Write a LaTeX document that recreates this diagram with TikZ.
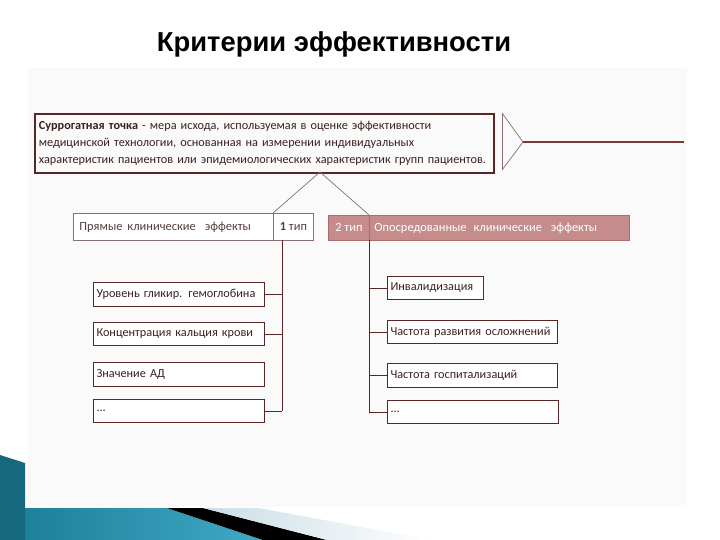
\documentclass[tikz,border=0pt]{standalone}
\usepackage{fontspec}
\setmainfont{Carlito}
\newfontfamily\titlefont{Liberation Sans}
\definecolor{boxdark}{HTML}{5B2525}
\definecolor{txtdark}{HTML}{3D1F1F}
\definecolor{rowtxt}{HTML}{5A3C3C}
\definecolor{rose}{HTML}{C68C8C}
\definecolor{roseborder}{HTML}{A86E6E}
\definecolor{linegray}{HTML}{8B6F6F}
\definecolor{linebrown}{HTML}{7A3A30}
\definecolor{panelc}{HTML}{FAFAFA}
\definecolor{tealdark}{HTML}{16687E}
\definecolor{tealA}{HTML}{1B7C95}
\definecolor{tealB}{HTML}{3FA9C6}
\definecolor{paleblue}{HTML}{C9DDE6}
\tikzset{
  txt/.style={font=\fontsize{12.5}{17}\selectfont},
  rowbox/.style={draw=linegray, line width=0.8bp, fill=white, anchor=north west, inner ysep=0pt, txt, text=rowtxt},
  rosebox/.style={draw=roseborder, line width=0.8bp, fill=rose, anchor=north west, inner ysep=0pt, txt, text=white},
  childbox/.style={draw=boxdark, line width=1.1bp, fill=white, anchor=north west, inner xsep=3bp, inner ysep=0pt, align=left, font=\fontsize{12.3}{17}\selectfont, text=txtdark, text width=#1},
  conn/.style={draw=boxdark, line width=0.9bp},
  diag/.style={draw=linegray, line width=0.7bp}
}
\begin{document}
\begin{tikzpicture}[x=1bp,y=-1bp]
\useasboundingbox (0,0) rectangle (720,540);
\fill[white] (0,0) rectangle (720,540);
\fill[panelc] (28,68) rectangle (687,507);
% decoration bottom left
\shade[left color=tealA, right color=tealB] (25,508) -- (167,508) -- (263,540) -- (0,540) -- cycle;
\fill[tealdark] (0,455) -- (25,463) -- (25,540) -- (0,540) -- cycle;
\fill[black] (167,508) -- (203,508) -- (327,540) -- (263,540) -- cycle;
\shade[left color=paleblue, right color=white] (203,508) -- (258,508) -- (433,540) -- (327,540) -- cycle;
% title
\node[font=\titlefont\bfseries\fontsize{27.5}{32}\selectfont, anchor=base, text=black] (title) at (334,52) {Критерии эффективности};
% top box
\node[draw=boxdark, line width=1.6bp, anchor=north west, minimum height=59bp, text width=451bp, inner xsep=4bp, inner ysep=0pt, align=left, font=\fontsize{12.3}{17}\selectfont, text=txtdark] (surr) at (34,113)
 {\textbf{Суррогатная точка} - мера исхода, используемая в оценке эффективности\\
 медицинской технологии, основанная на измерении индивидуальных\\
 характеристик пациентов или эпидемиологических характеристик групп пациентов.};
% arrow to the right
\coordinate (at) at (502,113);
\coordinate (ab) at (502,170);
\coordinate (apex) at (523,142);
\coordinate (aend) at (684,142);
\draw[diag] (at) -- (ab);
\draw[diag] (at) -- (apex) -- (ab);
\draw[linebrown, line width=2bp] (apex) -- (aend);
% type rows
\node[rowbox, minimum height=27bp, inner xsep=6bp, text width=188bp, align=left] (p1) at (73,213) {Прямые\hspace{5bp}клинические\hspace{9bp}эффекты};
\node[rowbox, inner xsep=0pt, minimum width=40bp, minimum height=27bp] (t1) at (273,213) {\textbf{1} тип};
\node[rosebox, inner xsep=0pt, minimum width=41bp, minimum height=25bp] (t2) at (328,215) {2 тип};
\node[rosebox, inner xsep=5bp, text width=250bp, align=left, minimum height=25bp] (p2) at (369,215) {Опосредованные\hspace{7bp}клинические\hspace{9bp}эффекты};
% split lines
\coordinate (split) at (320,172);
\draw[diag] (split) -- (t1.north west);
\draw[diag] (split) -- (p2.north west);
% left children
\node[childbox=165bp, minimum height=24bp] (l1) at (93,282) {Уровень гликир. гемоглобина};
\node[childbox=165bp, minimum height=23bp] (l2) at (93,322) {Концентрация кальция крови};
\node[childbox=165bp, minimum height=24bp] (l3) at (93,362) {Значение АД};
\node[childbox=165bp, minimum height=23bp] (l4) at (93,399) {...};
\coordinate (ltop) at (282,240);
\draw[conn] (ltop) -- (ltop |- l4.east);
\draw[conn] (l1.east) -- (l1.east -| ltop);
\draw[conn] (l2.east) -- (l2.east -| ltop);
\draw[conn] (l4.east) -- (l4.east -| ltop);
% right children
\node[childbox=90bp, minimum height=23bp] (r1) at (387,276) {Инвалидизация};
\node[childbox=164bp, minimum height=23bp] (r2) at (387,320) {Частота развития осложнений};
\node[childbox=164bp, minimum height=24bp] (r3) at (387,363) {Частота госпитализаций};
\node[childbox=165bp, minimum height=23bp] (r4) at (387,400) {...};
\coordinate (rtop) at (369,240);
\draw[conn] (rtop) -- (rtop |- r4.west);
\draw[conn] (rtop |- r1.west) -- (r1.west);
\draw[conn] (rtop |- r2.west) -- (r2.west);
\draw[conn] (rtop |- r3.west) -- (r3.west);
\draw[conn] (rtop |- r4.west) -- (r4.west);
\end{tikzpicture}
\end{document}
